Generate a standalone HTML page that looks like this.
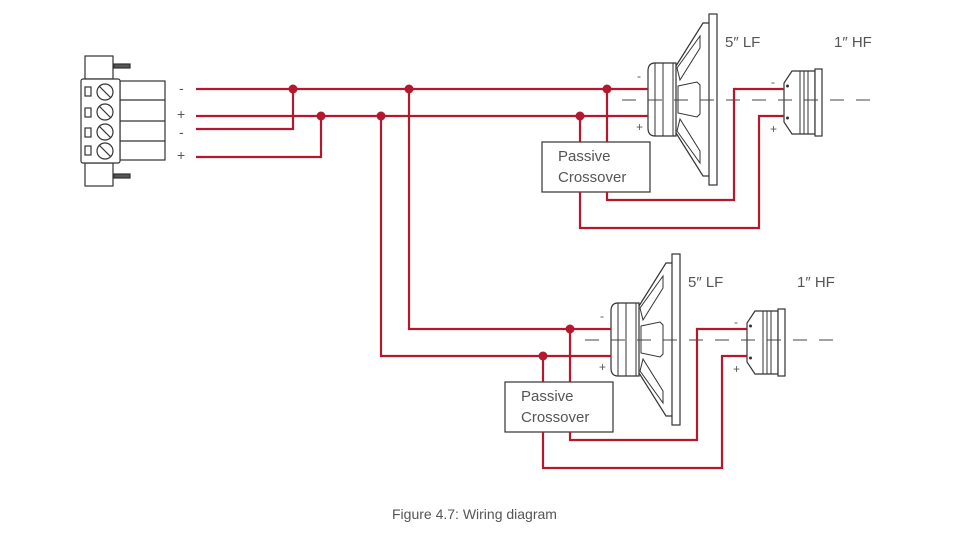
<!DOCTYPE html>
<html><head><meta charset="utf-8"><style>
html,body{margin:0;padding:0;background:#fff;}
svg{display:block;}
text{font-family:"Liberation Sans",sans-serif;fill:#555;}
</style></head><body>
<svg width="960" height="537" viewBox="0 0 960 537" xmlns="http://www.w3.org/2000/svg">
<defs>
<g id="grp">
  <!-- speaker magnet -->
  <path d="M655,63 L676,63 L676,136 L655,136 Q648,136 648,128 L648,71 Q648,63 655,63 Z" fill="#fff" stroke="#333" stroke-width="1.2"/>
  <line x1="655" y1="63" x2="655" y2="136" stroke="#333" stroke-width="1"/>
  <line x1="663" y1="63" x2="663" y2="136" stroke="#333" stroke-width="1"/>
  <line x1="673" y1="63" x2="673" y2="136" stroke="#333" stroke-width="1"/>
  <!-- basket -->
  <path d="M676,66 L703,23 L709,23 M676,133 L703,176 L709,176" fill="none" stroke="#333" stroke-width="1.2"/>
  <path d="M677,68 L700,36 L700,48 L680,80 Z" fill="#fff" stroke="#333" stroke-width="1"/>
  <path d="M678,86 L697,82 L700,85 L700,114 L697,117 L678,113 Z" fill="#fff" stroke="#333" stroke-width="1"/>
  <path d="M677,131 L700,163 L700,151 L680,119 Z" fill="#fff" stroke="#333" stroke-width="1"/>
  <rect x="709" y="14" width="8" height="171" fill="#fff" stroke="#333" stroke-width="1.2"/>
  <!-- tweeter -->
  <path d="M792,71 L815,71 L815,134 L792,134 L784,122 L784,83 Z" fill="#fff" stroke="#333" stroke-width="1.2"/>
  <rect x="815" y="69" width="7" height="67" fill="#fff" stroke="#333" stroke-width="1.2"/>
  <line x1="800" y1="71" x2="800" y2="134" stroke="#333" stroke-width="1"/>
  <line x1="804" y1="71" x2="804" y2="134" stroke="#333" stroke-width="1"/>
  <line x1="808" y1="71" x2="808" y2="134" stroke="#333" stroke-width="1"/>
  <circle cx="787.5" cy="86" r="1.5" fill="#333"/>
  <circle cx="787.5" cy="118" r="1.5" fill="#333"/>
  <!-- centerline on top -->
  <line x1="622" y1="100" x2="872" y2="100" stroke="#444" stroke-width="1" stroke-dasharray="14,12"/>
  <!-- crossover -->
  <rect x="542" y="142" width="108" height="50" fill="#fff" stroke="#333" stroke-width="1.2"/>
  <text x="558" y="161" font-size="15">Passive</text>
  <text x="558" y="182" font-size="15">Crossover</text>
  <!-- wires -->
  <g fill="none" stroke="#b4182c" stroke-width="2.2">
    <line x1="607" y1="89" x2="607" y2="142"/>
    <line x1="580" y1="116" x2="580" y2="142"/>
    <polyline points="607,192 607,200 734,200 734,89 784,89"/>
    <polyline points="580,192 580,228 759,228 759,116 784,116"/>
  </g>
  <circle cx="607" cy="89" r="4.5" fill="#b4182c"/>
  <circle cx="580" cy="116" r="4.5" fill="#b4182c"/>
  <text x="637" y="80" font-size="12">-</text>
  <text x="636" y="131" font-size="12">+</text>
  <text x="771" y="86" font-size="12">-</text>
  <text x="770" y="133" font-size="12">+</text>
  <text x="725" y="47" font-size="15">5″ LF</text>
  <text x="834" y="47" font-size="15">1″ HF</text>
</g>
</defs>
<use href="#grp"/>
<use href="#grp" transform="translate(-37,240)"/>
<!-- main wires -->
<g fill="none" stroke="#b4182c" stroke-width="2.2">
  <line x1="196" y1="89" x2="648" y2="89"/>
  <line x1="196" y1="116" x2="648" y2="116"/>
  <polyline points="196,129 293,129 293,89"/>
  <polyline points="196,157 321,157 321,116"/>
  <polyline points="409,89 409,329 611,329"/>
  <polyline points="381,116 381,356 611,356"/>
</g>
<g fill="#b4182c">
  <circle cx="293" cy="89" r="4.5"/><circle cx="321" cy="116" r="4.5"/>
  <circle cx="381" cy="116" r="4.5"/><circle cx="409" cy="89" r="4.5"/>
</g>
<!-- connector -->
<g stroke="#333" stroke-width="1.2" fill="#fff">
  <rect x="85" y="56" width="28" height="23"/>
  <rect x="85" y="163" width="28" height="23"/>
  <rect x="114" y="64" width="16" height="4" fill="#555"/>
  <rect x="114" y="174" width="16" height="4" fill="#555"/>
  <rect x="120" y="81" width="45" height="79"/>
  <line x1="120" y1="100" x2="165" y2="100"/>
  <line x1="120" y1="121" x2="165" y2="121"/>
  <line x1="120" y1="141" x2="165" y2="141"/>
  <rect x="81" y="79" width="39" height="84" rx="2"/>
  <rect x="85" y="87" width="6" height="9"/>
  <rect x="85" y="108" width="6" height="9"/>
  <rect x="85" y="128" width="6" height="9"/>
  <rect x="85" y="146" width="6" height="9"/>
  <circle cx="105" cy="92" r="8"/><line x1="99" y1="86" x2="111" y2="98"/>
  <circle cx="105" cy="112" r="8"/><line x1="99" y1="106" x2="111" y2="118"/>
  <circle cx="105" cy="132" r="8"/><line x1="99" y1="126" x2="111" y2="138"/>
  <circle cx="105" cy="151" r="8"/><line x1="99" y1="145" x2="111" y2="157"/>
</g>
<text x="179" y="93" font-size="14">-</text>
<text x="177" y="119" font-size="14">+</text>
<text x="179" y="137" font-size="14">-</text>
<text x="177" y="160" font-size="14">+</text>
<text x="392" y="519" font-size="14">Figure 4.7: Wiring diagram</text>
</svg>
</body></html>
